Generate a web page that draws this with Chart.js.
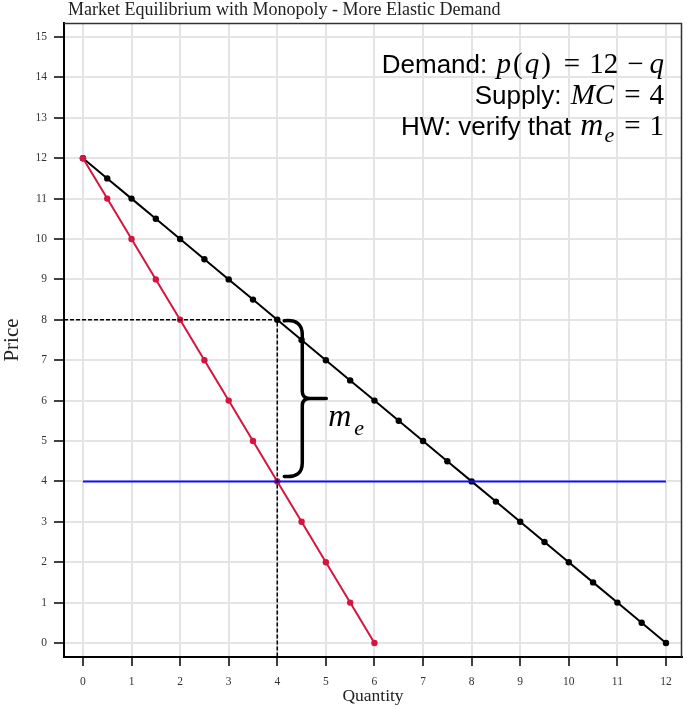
<!DOCTYPE html>
<html><head><meta charset="utf-8">
<script src="https://cdn.jsdelivr.net/npm/chart.js@4"></script>
<style>html,body{margin:0;padding:0;background:#fff}canvas{display:block}</style>
</head><body>
<canvas id="c" width="687" height="711"></canvas>
<script>
// ---- data ----
const titleText = "Market Equilibrium with Monopoly - More Elastic Demand";
const xLabel = "Quantity";
const yLabel = "Price";
const xTicks = [0,1,2,3,4,5,6,7,8,9,10,11,12];
const yTicks = [0,1,2,3,4,5,6,7,8,9,10,11,12,13,14,15];
const demandQ = [0,0.5,1,1.5,2,2.5,3,3.5,4,4.5,5,5.5,6,6.5,7,7.5,8,8.5,9,9.5,10,10.5,11,11.5,12];
const demandP = [12,11.5,11,10.5,10,9.5,9,8.5,8,7.5,7,6.5,6,5.5,5,4.5,4,3.5,3,2.5,2,1.5,1,0.5,0];
const mrQ = [0,0.5,1,1.5,2,2.5,3,3.5,4,4.5,5,5.5,6];
const mrP = [12,11,10,9,8,7,6,5,4,3,2,1,0];
const mcQ = [0,12];
const mcP = [4,4];
const monoQ = 4;      // monopoly quantity
const monoP = 8;      // monopoly price
const mcLevel = 4;    // marginal cost
const xMin = -0.39, xMax = 12.33, yMin = -0.347, yMax = 15.347;
const guideQ = [xMin, monoQ, monoQ];
const guideP = [monoP, monoP, yMin];

const SERIF = "'Liberation Serif', 'Times New Roman', serif";
const SANS = "'Liberation Sans', Arial, sans-serif";
const MATH = "'Liberation Serif', serif";

const pts = (xs, ys) => xs.map((x, i) => ({x, y: ys[i]}));

// ---- annotation plugin ----
function drawRich(ctx, segs, rightX, baseY) {
  let total = 0;
  segs.forEach(s => { ctx.font = s.font; s.w = ctx.measureText(s.t).width; total += s.w + (s.gap || 0); });
  let x = rightX - total;
  segs.forEach(s => {
    ctx.font = s.font;
    ctx.fillText(s.t, x, baseY + (s.dy || 0));
    x += s.w + (s.gap || 0);
  });
}
const annot = {
  id: 'annot',
  afterDraw(chart) {
    const {ctx, chartArea: ca} = chart;
    const xs = chart.scales.x, ys = chart.scales.y;
    ctx.save();
    // title
    ctx.fillStyle = '#222';
    ctx.textBaseline = 'middle'; ctx.textAlign = 'left';
    ctx.font = "18px " + SERIF;
    ctx.fillText(titleText, ca.left + 4, 10.5);

    // top/right frame
    ctx.strokeStyle = '#333'; ctx.lineWidth = 1.5;
    ctx.beginPath();
    ctx.moveTo(ca.left, ca.top + 0.5); ctx.lineTo(ca.right - 0.5, ca.top + 0.5); ctx.lineTo(ca.right - 0.5, ca.bottom);
    ctx.stroke();

    // brace
    const bx = xs.getPixelForValue(monoQ);
    const top = ys.getPixelForValue(monoP) + 1;
    const bot = ys.getPixelForValue(mcLevel) - 5;
    const mid = (ys.getPixelForValue(monoP) + ys.getPixelForValue(mcLevel)) / 2 - 2;
    const x0 = bx + 7, xv = bx + 25, xt = bx + 49;
    ctx.strokeStyle = '#000'; ctx.lineWidth = 3.5; ctx.lineCap = 'round'; ctx.lineJoin = 'round';
    ctx.beginPath();
    ctx.moveTo(x0, top);
    ctx.quadraticCurveTo(xv, top - 2, xv, top + 14);
    ctx.lineTo(xv, mid - 7);
    ctx.quadraticCurveTo(xv, mid, xv + 8, mid);
    ctx.lineTo(xt, mid);
    ctx.moveTo(xv + 8, mid);
    ctx.quadraticCurveTo(xv, mid, xv, mid + 7);
    ctx.lineTo(xv, bot - 14);
    ctx.quadraticCurveTo(xv, bot + 2, x0, bot);
    ctx.stroke();

    // m_e label
    ctx.fillStyle = '#000';
    ctx.textBaseline = 'alphabetic'; ctx.textAlign = 'left';
    ctx.font = "italic 32px " + MATH;
    ctx.fillText("m", bx + 51, mid + 27);
    ctx.font = "italic 22px " + MATH;
    ctx.fillText("e", bx + 77, mid + 36);

    // info text
    const sf = "26px " + SANS, mf = "italic 29px " + MATH, rf = "29px " + MATH;
    const R = ca.right - 18;
    drawRich(ctx, [
      {t: "Demand: ", font: sf, gap: 2},
      {t: "p", font: mf, gap: 2}, {t: "(", font: rf, gap: 2}, {t: "q", font: mf, gap: 2}, {t: ")", font: rf, gap: 13},
      {t: "=", font: rf, gap: 9}, {t: "12", font: rf, gap: 9}, {t: "\u2212", font: rf, gap: 6}, {t: "q", font: mf}
    ], R, 73);
    drawRich(ctx, [
      {t: "Supply: ", font: sf, gap: 2},
      {t: "MC", font: mf, gap: 10}, {t: "=", font: rf, gap: 9}, {t: "4", font: rf}
    ], R, 104);
    drawRich(ctx, [
      {t: "HW: verify that ", font: sf, gap: 2},
      {t: "m", font: "italic 32px " + MATH, gap: 1}, {t: "e", font: "italic 22px " + MATH, dy: 7, gap: 10},
      {t: "=", font: rf, gap: 9}, {t: "1", font: rf}
    ], R, 135);
    ctx.restore();
  }
};

new Chart(document.getElementById('c'), {
  type: 'scatter',
  data: {
    datasets: [
      {label: 'guide', data: pts(guideQ, guideP), showLine: true, borderColor: '#000', borderWidth: 1.5,
       borderDash: [4, 2], pointRadius: 0, clip: false},
      {label: 'MC', data: pts(mcQ, mcP), showLine: true, borderColor: '#1010ff', borderWidth: 2, pointRadius: 0},
      {label: 'MR', data: pts(mrQ, mrP), showLine: true, borderColor: '#d4163e', backgroundColor: '#d4163e',
       borderWidth: 2, pointRadius: 3.2, pointBorderWidth: 0},
      {label: 'Demand', data: pts(demandQ, demandP), showLine: true, borderColor: '#000', backgroundColor: '#000',
       borderWidth: 2, pointRadius: 3.2, pointBorderWidth: 0}
    ]
  },
  options: {
    responsive: false, animation: false, devicePixelRatio: 1,
    layout: {padding: {left: 0, right: 5, top: 23, bottom: 0}},
    plugins: {
      legend: {display: false}, tooltip: {enabled: false}, title: {display: false}
    },
    scales: {
      x: {
        type: 'linear', min: xMin, max: xMax,
        afterBuildTicks: a => { a.ticks = xTicks.map(v => ({value: v})); },
        afterFit: a => { a.height = 54; },
        grid: {color: '#e4e4e4', lineWidth: 2, tickColor: '#000', tickLength: 9, tickWidth: 1.5},
        border: {color: '#000', width: 2},
        ticks: {color: '#333', font: {family: SERIF, size: 11.5}, padding: 9, maxRotation: 0, autoSkip: false},
        title: {display: true, text: xLabel, color: '#222', font: {family: SERIF, size: 17.5}, padding: {top: 0, bottom: 4}}
      },
      y: {
        type: 'linear', min: yMin, max: yMax,
        afterBuildTicks: a => { a.ticks = yTicks.map(v => ({value: v})); },
        afterFit: a => { a.width = 64; },
        grid: {color: '#e4e4e4', lineWidth: 2, tickColor: '#000', tickLength: 10, tickWidth: 1.5},
        border: {color: '#000', width: 2},
        ticks: {color: '#333', font: {family: SERIF, size: 11.5}, padding: 7, autoSkip: false},
        title: {display: true, text: yLabel, color: '#222', font: {family: SERIF, size: 21}, padding: {top: 0, bottom: 0}}
      }
    }
  },
  plugins: [annot]
});
</script>
</body></html>
